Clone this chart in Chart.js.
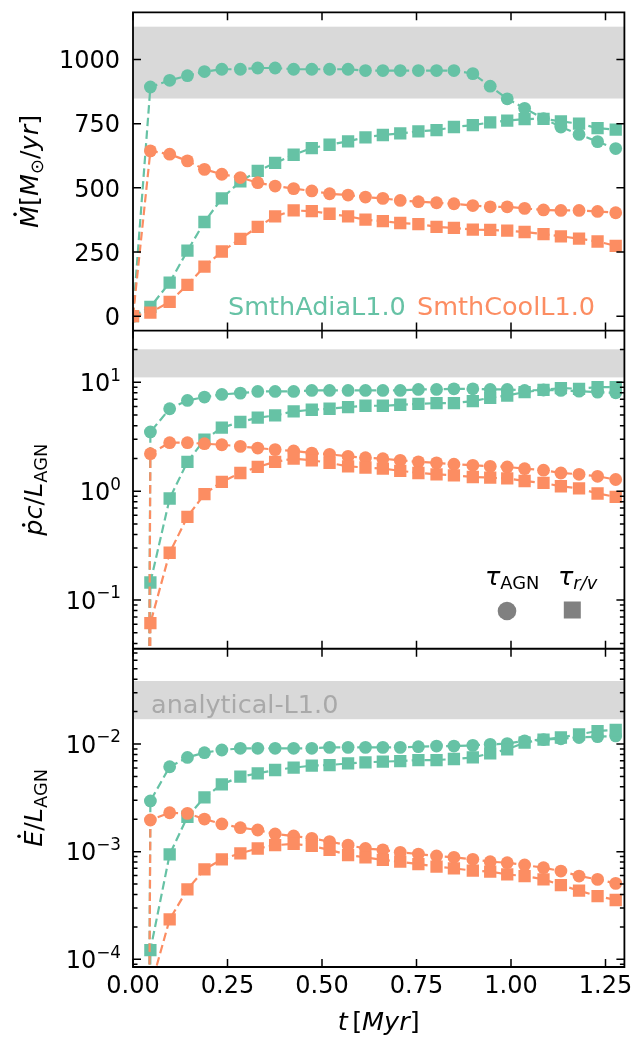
<!DOCTYPE html>
<html>
<head>
<meta charset="utf-8">
<script src="https://cdn.jsdelivr.net/npm/chart.js@4/dist/chart.umd.min.js"></script>
<style>
  html, body { margin: 0; padding: 0; background: #ffffff; }
  #wrap { width: 635px; height: 1039px; position: relative; }
</style>
</head>
<body>
<div id="wrap"><canvas id="c" width="635" height="1039"></canvas></div>
<script>
// Simulation output times [Myr]
const times = [0, 0.046, 0.097, 0.144, 0.189, 0.235, 0.284, 0.330, 0.376, 0.425, 0.473, 0.520, 0.569, 0.615,
  0.661, 0.707, 0.755, 0.803, 0.849, 0.899, 0.945, 0.990, 1.036, 1.086, 1.132, 1.180, 1.229, 1.277];

// Mass outflow rate [Msun/yr]
const mdotAdiaAgn = [0, 893, 919, 937, 953, 962, 962, 967, 967, 962, 962, 962, 962, 957, 957, 957, 957, 957, 957,
  945, 896, 847, 810, 770, 737, 708, 680, 653];
const mdotAdiaRv = [0, 36, 131, 255, 367, 459, 525, 566, 597, 629, 655, 668, 681, 697, 706, 712, 720, 725, 737,
  744, 755, 762, 768, 769, 759, 750, 733, 727];
const mdotCoolAgn = [0, 644, 631, 605, 572, 553, 540, 520, 507, 497, 488, 477, 472, 464, 459, 451, 446, 442, 438,
  431, 426, 426, 420, 414, 412, 412, 408, 403];
const mdotCoolRv = [0, 14, 56, 122, 193, 252, 301, 348, 389, 412, 409, 399, 389, 376, 370, 363, 359, 348, 344,
  337, 336, 333, 328, 320, 311, 302, 291, 274];

// Momentum flux, pdot c / L_AGN
const pdotAdiaAgn = [0, 3.50, 5.72, 6.82, 7.32, 7.74, 7.96, 8.24, 8.24, 8.24, 8.42, 8.42, 8.42, 8.42, 8.42, 8.42,
  8.60, 8.60, 8.72, 8.72, 8.60, 8.60, 8.42, 8.50, 8.42, 8.30, 8.13, 8.01];
const pdotAdiaRv = [0, 0.145, 0.857, 1.86, 2.97, 3.83, 4.32, 4.73, 4.97, 5.40, 5.60, 5.72, 5.92, 6.09, 6.09, 6.22,
  6.35, 6.44, 6.44, 6.72, 7.21, 7.57, 8.13, 8.54, 8.85, 8.72, 9.03, 9.03];
const pdotCoolAgn = [0, 2.21, 2.79, 2.79, 2.73, 2.67, 2.58, 2.49, 2.41, 2.34, 2.24, 2.18, 2.09, 2.03, 1.99, 1.92,
  1.86, 1.82, 1.77, 1.73, 1.69, 1.67, 1.61, 1.56, 1.47, 1.43, 1.37, 1.28];
const pdotCoolRv = [0, 0.0614, 0.272, 0.582, 0.940, 1.22, 1.47, 1.67, 1.86, 1.99, 1.92, 1.82, 1.69, 1.65, 1.61, 1.54,
  1.47, 1.43, 1.40, 1.35, 1.33, 1.31, 1.24, 1.19, 1.11, 1.06, 0.952, 0.887];

// Energy flux, Edot / L_AGN
const edotAdiaAgn = [0, 2.96e-3, 6.15e-3, 7.51e-3, 8.31e-3, 8.80e-3, 9.12e-3, 9.12e-3, 9.12e-3, 9.12e-3, 9.12e-3,
  9.31e-3, 9.31e-3, 9.31e-3, 9.31e-3, 9.31e-3, 9.45e-3, 9.58e-3, 9.58e-3, 9.72e-3, 9.93e-3, 1.01e-2, 1.07e-2,
  1.10e-2, 1.12e-2, 1.15e-2, 1.17e-2, 1.19e-2];
const edotAdiaRv = [0, 1.22e-4, 9.44e-4, 2.11e-3, 3.20e-3, 4.22e-3, 4.97e-3, 5.34e-3, 5.74e-3, 6.03e-3, 6.30e-3,
  6.38e-3, 6.61e-3, 6.76e-3, 6.86e-3, 6.95e-3, 7.10e-3, 7.10e-3, 7.26e-3, 7.51e-3, 8.19e-3, 8.92e-3, 1.03e-2,
  1.10e-2, 1.15e-2, 1.23e-2, 1.32e-2, 1.35e-2];
const edotCoolAgn = [0, 1.97e-3, 2.30e-3, 2.27e-3, 2.01e-3, 1.81e-3, 1.67e-3, 1.59e-3, 1.46e-3, 1.40e-3, 1.33e-3,
  1.24e-3, 1.15e-3, 1.07e-3, 1.04e-3, 9.86e-4, 9.51e-4, 9.12e-4, 8.86e-4, 8.49e-4, 8.07e-4, 7.90e-4, 7.52e-4,
  7.10e-4, 6.61e-4, 5.94e-4, 5.53e-4, 5.08e-4];
const edotCoolRv = [0, 5.4e-5, 2.35e-4, 4.47e-4, 6.85e-4, 8.49e-4, 9.66e-4, 1.07e-3, 1.15e-3, 1.18e-3, 1.13e-3,
  1.04e-3, 9.31e-4, 8.86e-4, 8.38e-4, 8.07e-4, 7.67e-4, 7.26e-4, 7.00e-4, 6.67e-4, 6.53e-4, 6.15e-4, 5.94e-4,
  5.53e-4, 4.90e-4, 4.34e-4, 3.87e-4, 3.56e-4];

// Analytical-model ranges (shaded bands)
const mdotBand = [848, 1128];
const pdotBand = [11.1, 20.1];
const edotBand = [0.0170, 0.0385];

// Axis ranges and tick labels
const timeRange = [0, 1.30];
const timeTicks = [0, 0.25, 0.50, 0.75, 1.00, 1.25];
const mdotRange = [-56, 1184];
const mdotTicks = [0, 250, 500, 750, 1000];
const pdotRange = [0.0357, 29.9];
const pdotTicks = [0.1, 1, 10];
const edotRange = [8.49e-5, 0.0767];
const edotTicks = [1e-4, 1e-3, 1e-2];

// Run names
const runNames = ['SmthAdiaL1.0', 'SmthCoolL1.0'];
const bandName = 'analytical-L1.0';

const C_ADIA = '#66c2a5';
const C_COOL = '#fc8d62';
const FONT = '"DejaVu Sans", sans-serif';
const LOG_FLOOR = 1e-30; // non-positive values are clipped like a log axis does

function pts(ys, isLog) {
  return ys.map((y, i) => ({ x: times[i], y: isLog ? (y > 0 ? y : LOG_FLOOR) : y }));
}

function ds(ys, axis, color, shape, isLog) {
  const r = shape === 'rect' ? 8.7 : 6.4;
  return {
    data: pts(ys, isLog), yAxisID: axis, xAxisID: 'x',
    borderColor: color, backgroundColor: color, borderWidth: 2.2, borderDash: [8.5, 4.2],
    pointStyle: shape, pointRadius: r, pointHoverRadius: r, pointBorderWidth: 0,
    fill: false, tension: 0
  };
}

// drawn bottom-to-top in this order (Chart.js paints the first dataset last)
const layers = [];
[['yM', false, mdotAdiaAgn, mdotAdiaRv, mdotCoolAgn, mdotCoolRv],
 ['yP', true, pdotAdiaAgn, pdotAdiaRv, pdotCoolAgn, pdotCoolRv],
 ['yE', true, edotAdiaAgn, edotAdiaRv, edotCoolAgn, edotCoolRv]].forEach(([ax, lg, a1, a2, c1, c2]) => {
  layers.push(ds(a1, ax, C_ADIA, 'circle', lg));
  layers.push(ds(a2, ax, C_ADIA, 'rect', lg));
  layers.push(ds(c1, ax, C_COOL, 'circle', lg));
  layers.push(ds(c2, ax, C_COOL, 'rect', lg));
});
const datasets = layers.reverse();

function drawRich(ctx, runs, x, y, size, align, color) {
  const parts = runs.map(r => {
    const s = size * (r.sc || 1);
    const font = (r.it ? 'italic ' : '') + s + 'px ' + FONT;
    ctx.font = font;
    return Object.assign({}, r, { s, font, w: ctx.measureText(r.t).width });
  });
  const total = parts.reduce((a, p) => a + p.w + (p.pre || 0) * size, 0);
  let cx = align === 'center' ? x - total / 2 : (align === 'right' ? x - total : x);
  ctx.fillStyle = color;
  ctx.textAlign = 'left';
  ctx.textBaseline = 'alphabetic';
  for (const p of parts) {
    cx += (p.pre || 0) * size;
    ctx.font = p.font;
    const by = y + (p.dy || 0) * size;
    ctx.fillText(p.t, cx, by);
    if (p.dot) {
      const dx = cx + p.w / 2 + (p.it ? p.s * 0.1 : 0);
      ctx.beginPath();
      ctx.arc(dx, by - p.s * p.dot, p.s * 0.07, 0, Math.PI * 2);
      ctx.fill();
    }
    cx += p.w;
  }
}

function minorLogTicks(min, max) {
  const out = [];
  for (let d = Math.floor(Math.log10(min)); d <= Math.ceil(Math.log10(max)); d++) {
    for (let k = 2; k <= 9; k++) {
      const v = k * Math.pow(10, d);
      if (v >= min && v <= max) out.push(v);
    }
  }
  return out;
}

const panels = [
  { id: 'yM', band: mdotBand, ticks: mdotTicks, range: mdotRange, log: false, baseX: 38,
    title: [{ t: 'M', it: 1, dot: 0.9 }, { t: '[' }, { t: 'M', it: 1 }, { t: '\u2299', sc: 0.7, dy: 0.18 },
            { t: '/' }, { t: 'yr', it: 1 }, { t: ']' }] },
  { id: 'yP', band: pdotBand, ticks: pdotTicks, range: pdotRange, log: true, baseX: 42,
    title: [{ t: 'p', it: 1, dot: 0.72 }, { t: 'c', it: 1 }, { t: '/' }, { t: 'L', it: 1 },
            { t: 'AGN', sc: 0.7, dy: 0.2 }] },
  { id: 'yE', band: edotBand, ticks: edotTicks, range: edotRange, log: true, baseX: 42,
    title: [{ t: 'E', it: 1, dot: 0.9 }, { t: '/' }, { t: 'L', it: 1 }, { t: 'AGN', sc: 0.7, dy: 0.2 }] }
];

const panelClip = {
  id: 'panelClip',
  beforeDatasetDraw(chart, args) {
    const ys = chart.scales[args.meta.yAxisID];
    const a = chart.chartArea;
    const ctx = chart.ctx;
    ctx.save();
    ctx.beginPath();
    ctx.rect(a.left, ys.top, a.right - a.left, ys.bottom - ys.top);
    ctx.clip();
  },
  afterDatasetDraw(chart) { chart.ctx.restore(); }
};

const bands = {
  id: 'bands',
  beforeDatasetsDraw(chart) {
    const ctx = chart.ctx, a = chart.chartArea;
    ctx.save();
    ctx.fillStyle = '#d9d9d9';
    for (const p of panels) {
      const s = chart.scales[p.id];
      const y1 = s.getPixelForValue(p.band[1]), y0 = s.getPixelForValue(p.band[0]);
      ctx.fillRect(a.left, y1, a.right - a.left, y0 - y1);
    }
    ctx.restore();
  }
};

const frame = {
  id: 'frame',
  afterDatasetsDraw(chart) {
    const ctx = chart.ctx, a = chart.chartArea, xs = chart.scales.x;
    const MAJ = 8, MIN = 4.5;
    ctx.save();
    ctx.strokeStyle = '#000';
    ctx.lineWidth = 1.5;
    for (const p of panels) {
      const s = chart.scales[p.id];
      const top = s.top, bot = s.bottom;
      ctx.beginPath();
      // x ticks, top and bottom, pointing inward
      for (const t of timeTicks) {
        const x = xs.getPixelForValue(t);
        ctx.moveTo(x, bot); ctx.lineTo(x, bot - MAJ);
        ctx.moveTo(x, top); ctx.lineTo(x, top + MAJ);
      }
      // y ticks, left and right, pointing inward
      for (const v of p.ticks) {
        const y = s.getPixelForValue(v);
        ctx.moveTo(a.left, y); ctx.lineTo(a.left + MAJ, y);
        ctx.moveTo(a.right, y); ctx.lineTo(a.right - MAJ, y);
      }
      if (p.log) {
        for (const v of minorLogTicks(p.range[0], p.range[1])) {
          const y = s.getPixelForValue(v);
          ctx.moveTo(a.left, y); ctx.lineTo(a.left + MIN, y);
          ctx.moveTo(a.right, y); ctx.lineTo(a.right - MIN, y);
        }
      }
      ctx.stroke();

      // tick labels
      for (const v of p.ticks) {
        const y = s.getPixelForValue(v);
        if (p.log) {
          const e = Math.round(Math.log10(v));
          const es = (e < 0 ? '\u2212' : '') + Math.abs(e);
          drawRich(ctx, [{ t: '10' }, { t: es, sc: 0.7, dy: -0.42 }], 121, y + 8.5, 24, 'right', '#000');
        } else {
          drawRich(ctx, [{ t: String(v) }], 120, y + 8.7, 24, 'right', '#000');
        }
      }

      // axis title
      ctx.save();
      ctx.translate(p.baseX, (top + bot) / 2);
      ctx.rotate(-Math.PI / 2);
      drawRich(ctx, p.title, 0, 0, 25.5, 'center', '#000');
      ctx.restore();
    }
    // spines
    ctx.lineWidth = 1.8;
    ctx.beginPath();
    for (const p of panels) {
      const s = chart.scales[p.id];
      ctx.rect(a.left, s.top, a.right - a.left, s.bottom - s.top);
    }
    ctx.stroke();

    // x tick labels and title
    for (const t of timeTicks) {
      drawRich(ctx, [{ t: t.toFixed(2) }], xs.getPixelForValue(t), 993, 24, 'center', '#000');
    }
    drawRich(ctx, [{ t: 't', it: 1 }, { t: '[', pre: 0.17 }, { t: 'Myr', it: 1 }, { t: ']' }],
      (a.left + a.right) / 2, 1030, 25.5, 'center', '#000');

    // run names
    drawRich(ctx, [{ t: runNames[0] }], 228, 315, 25.5, 'left', C_ADIA);
    drawRich(ctx, [{ t: runNames[1] }], 417, 315, 25.5, 'left', C_COOL);

    // band label
    drawRich(ctx, [{ t: bandName }], 151, 713, 25.5, 'left', '#a9a9a9');

    // marker key
    drawRich(ctx, [{ t: '\u03c4', it: 1 }, { t: 'AGN', sc: 0.7, dy: 0.14 }], 485, 585, 25.5, 'left', '#000');
    drawRich(ctx, [{ t: '\u03c4', it: 1 }, { t: 'r/v', it: 1, sc: 0.7, dy: 0.14 }], 558, 585, 25.5, 'left', '#000');
    ctx.fillStyle = '#808080';
    ctx.beginPath();
    ctx.arc(507, 611, 9.3, 0, Math.PI * 2);
    ctx.fill();
    ctx.fillRect(572.3 - 8.5, 610 - 8.5, 17, 17);
    ctx.restore();
  }
};

const hidden = {
  display: true,
  grid: { display: false, drawTicks: false },
  border: { display: false },
  ticks: { display: false },
  title: { display: false }
};

// Stacked left axes: the last one listed is placed at the top
new Chart(document.getElementById('c'), {
  type: 'line',
  data: { datasets },
  options: {
    responsive: false,
    animation: false,
    events: [],
    layout: { padding: { left: 133, right: 10.6, top: 12.3, bottom: 72 } },
    plugins: { legend: { display: false }, tooltip: { enabled: false } },
    scales: {
      x: Object.assign({ type: 'linear', min: timeRange[0], max: timeRange[1] }, hidden),
      yE: Object.assign({ type: 'logarithmic', position: 'left', stack: 'panels', stackWeight: 1,
        min: edotRange[0], max: edotRange[1] }, hidden),
      yP: Object.assign({ type: 'logarithmic', position: 'left', stack: 'panels', stackWeight: 1,
        min: pdotRange[0], max: pdotRange[1] }, hidden),
      yM: Object.assign({ type: 'linear', position: 'left', stack: 'panels', stackWeight: 1,
        min: mdotRange[0], max: mdotRange[1] }, hidden)
    }
  },
  plugins: [panelClip, bands, frame]
});
</script>
</body>
</html>
